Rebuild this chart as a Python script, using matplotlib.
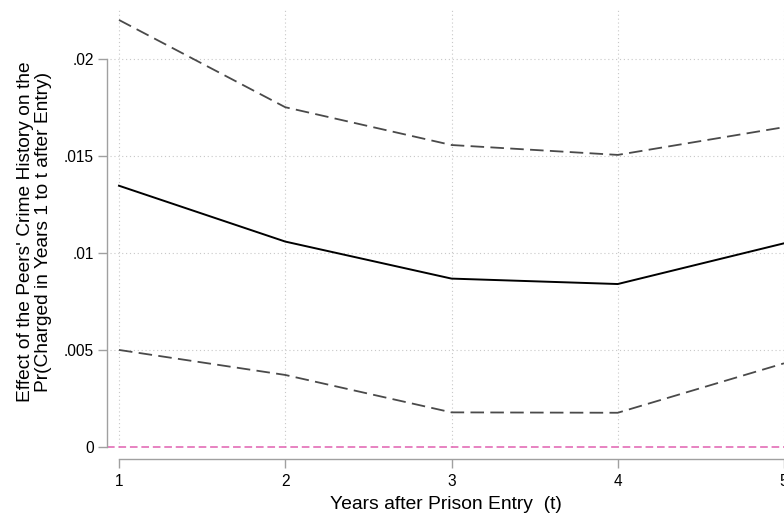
import matplotlib
matplotlib.use("Agg")
import matplotlib.pyplot as plt

plt.rcParams['font.family'] = ['Liberation Sans', 'DejaVu Sans']

years = [1, 2, 3, 4, 5]
estimate = [0.01346, 0.01058, 0.00867, 0.00839, 0.01049]
upper_ci = [0.02201, 0.01751, 0.01556, 0.01505, 0.01648]
lower_ci = [0.00499, 0.00370, 0.00177, 0.00175, 0.00430]

y_ticks = [0, 0.005, 0.01, 0.015, 0.02]
y_tick_labels = ['0', '.005', '.01', '.015', '.02']
x_ticks = [1, 2, 3, 4, 5]

fig = plt.figure(figsize=(7.84, 5.19), dpi=100)
ax = fig.add_axes([107 / 784, 60 / 519, 677 / 784, 459 / 519])
ax.set_xlim(0.9278, 5.0)
ax.set_ylim(-0.000635, 0.02304)

grid_kw = dict(color='#c8c8c8', linewidth=0.8, linestyle=(0, (1, 2.5)), zorder=1)
ax.vlines(x_ticks, 0, 0.02253, **grid_kw)
ax.hlines(y_ticks[1:], 0.946, 5.0, **grid_kw)

ax.axhline(0, color='#e060b0', linewidth=1.1, linestyle=(0, (5, 2.5)), zorder=2)

dash = (0, (7.5, 3.5))
ax.plot(years, upper_ci, color='#4a4a4a', linewidth=1.3, linestyle=dash, zorder=3, clip_on=False)
ax.plot(years, lower_ci, color='#4a4a4a', linewidth=1.3, linestyle=dash, zorder=3, clip_on=False)
ax.plot(years, estimate, color='black', linewidth=1.4, zorder=4, clip_on=False)

for s in ['top', 'right']:
    ax.spines[s].set_visible(False)
ax.spines['left'].set_bounds(0, 0.02)
ax.spines['bottom'].set_bounds(1, 5)
for s in ['left', 'bottom']:
    ax.spines[s].set_color('#a0a0a0')
    ax.spines[s].set_linewidth(1.0)

ax.set_yticks(y_ticks)
ax.set_yticklabels(y_tick_labels)
ax.set_xticks(x_ticks)
ax.set_xticklabels([str(v) for v in x_ticks])
ax.tick_params(axis='both', colors='#a0a0a0', labelcolor='black', labelsize=11.2,
               length=6.5, width=1.0)
ax.tick_params(axis='y', pad=3)
ax.tick_params(axis='x', pad=4)

ax.set_xlabel('Years after Prison Entry  (t)', fontsize=13.9, labelpad=5)
ax.set_ylabel("Effect of the Peers' Crime History on the\nPr(Charged in Years 1 to t after Entry)",
              fontsize=13.8, linespacing=1.05)
ax.yaxis.set_label_coords(-0.0815, 0.495)

fig.savefig('out.png', dpi=100)
